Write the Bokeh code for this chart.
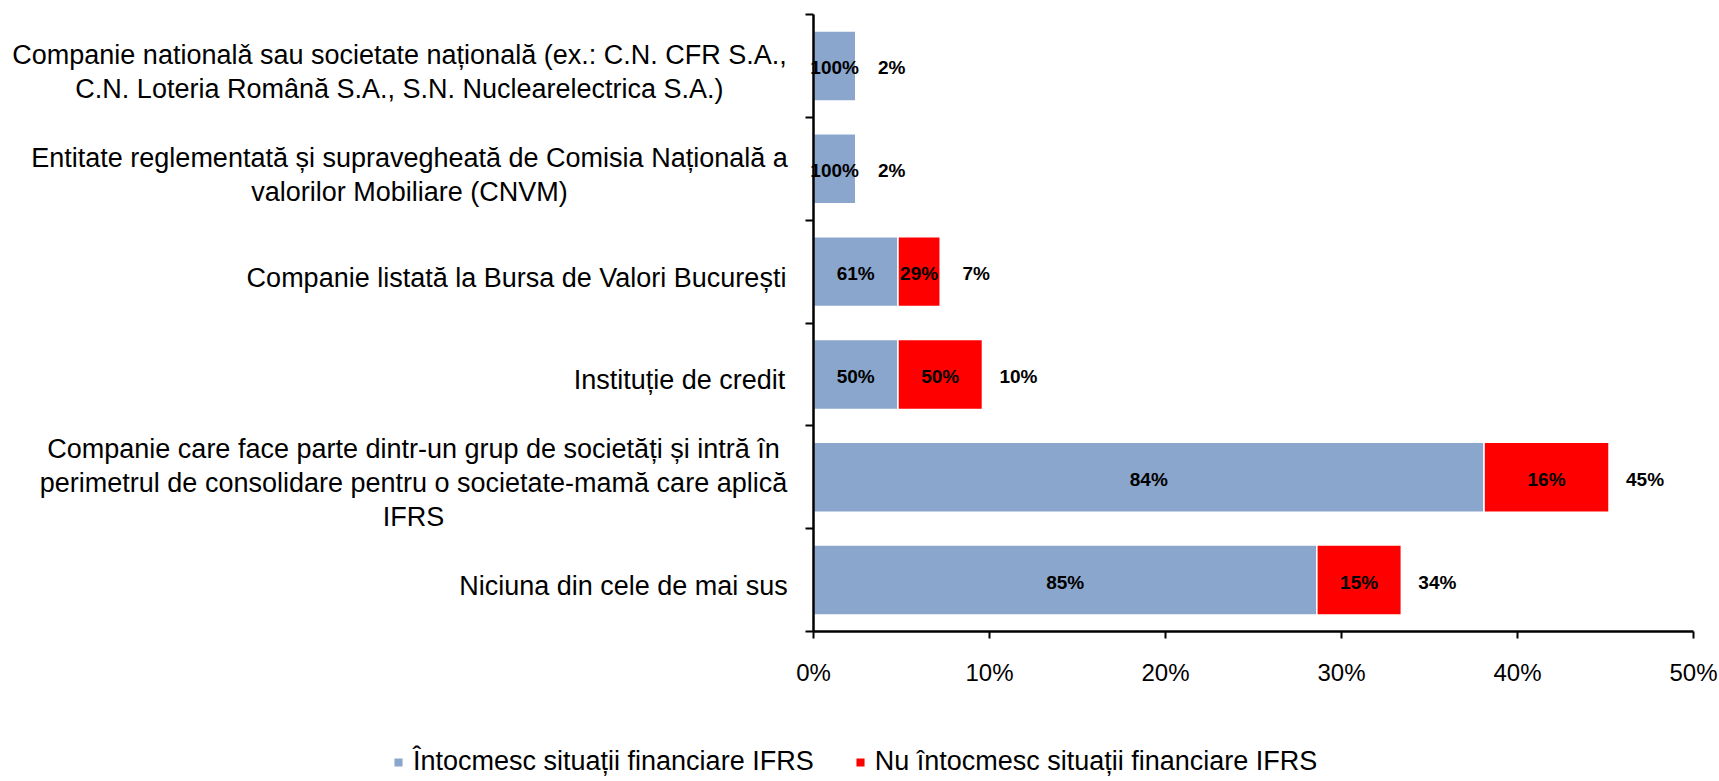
from bokeh.plotting import figure
from bokeh.models import (Range1d, FixedTicker, PrintfTickFormatter, CustomJSTickFormatter,
                          Label, Legend, LegendItem, ColumnDataSource, LinearAxis, Grid)
from bokeh.core.properties import value
from bokeh.embed import file_html
from bokeh.resources import INLINE

# ---- data (top to bottom) ----
categories = [
    "Companie nationalǎ sau societate națională (ex.: C.N. CFR S.A.,\nC.N. Loteria Română S.A., S.N. Nuclearelectrica S.A.)",
    "Entitate reglementată și supravegheată de Comisia Națională a\nvalorilor Mobiliare (CNVM)",
    "Companie listată la Bursa de Valori București",
    "Instituție de credit",
    "Companie care face parte dintr-un grup de societăți și intră în\nperimetrul de consolidare pentru o societate-mamă care aplică\nIFRS",
    "Niciuna din cele de mai sus",
]
ifrs_yes = [2.4, 2.4, 4.8, 4.8, 38.1, 28.6]      # % of respondents (blue segment)
ifrs_no = [0.0, 0.0, 2.4, 4.8, 7.1, 4.8]         # % of respondents (red segment)
yes_labels = ["100%", "100%", "61%", "50%", "84%", "85%"]
no_labels = ["", "", "29%", "50%", "16%", "15%"]
total_labels = ["2%", "2%", "7%", "10%", "45%", "34%"]
x_ticks = [0, 10, 20, 30, 40, 50]
series_names = ["Întocmesc situații financiare IFRS", "Nu întocmesc situații financiare IFRS"]

# ---- layout / style ----
FONT = "Liberation Sans"
BLUE = "#8AA6CC"
RED = "#FF0000"
W, H = 1719, 781
label_center_px = [-414, -404, -297, -134, -400, -190]   # horizontal centre of category label blocks

n = len(categories)
ys = [n - 0.5 - i for i in range(n)]
totals = [a + b for a, b in zip(ifrs_yes, ifrs_no)]

# plot frame spans the whole canvas; axes are pinned at x=0 / y=0
px_per_x = 17.6
px_per_y = 102.83
x0_px, y0_px = 813, 631
p = figure(width=W, height=H, output_backend="svg", toolbar_location=None,
           x_axis_location=None, y_axis_location=None,
           x_range=Range1d(-x0_px / px_per_x, (W - x0_px) / px_per_x),
           y_range=Range1d(-(H - y0_px) / px_per_y, y0_px / px_per_y),
           min_border=0, min_border_left=0, min_border_right=0,
           min_border_top=0, min_border_bottom=0)
p.outline_line_color = None
p.background_fill_color = "white"
p.border_fill_color = "white"
p.renderers = [r for r in p.renderers if not isinstance(r, Grid)]
p.center = [c for c in p.center if not isinstance(c, Grid)]

src_yes = ColumnDataSource(dict(y=ys, right=ifrs_yes, cx=[v / 2 for v in ifrs_yes], lbl=yes_labels))
r_yes = p.hbar(y="y", left=0, right="right", height=0.68, source=src_yes,
               fill_color=BLUE, line_color="white", line_width=1.5)

idx = [i for i in range(n) if ifrs_no[i] > 0]
src_no = ColumnDataSource(dict(y=[ys[i] for i in idx],
                               left=[ifrs_yes[i] for i in idx],
                               right=[totals[i] for i in idx],
                               cx=[ifrs_yes[i] + ifrs_no[i] / 2 for i in idx],
                               lbl=[no_labels[i] for i in idx]))
r_no = p.hbar(y="y", left="left", right="right", height=0.68, source=src_no,
              fill_color=RED, line_color="white", line_width=1.5)

# data labels
lbl_style = dict(text_align="center", text_baseline="middle", text_font=value(FONT),
                 text_font_style="bold", text_font_size="19px", text_color="black")
p.text(x="cx", y="y", text="lbl", source=src_yes, y_offset=2, **lbl_style)
p.text(x="cx", y="y", text="lbl", source=src_no, y_offset=2, **lbl_style)
src_tot = ColumnDataSource(dict(x=totals, y=ys, lbl=total_labels))
p.text(x="x", y="y", text="lbl", source=src_tot, x_offset=36, y_offset=2, **lbl_style)

# axes
xa = LinearAxis(fixed_location=0, bounds=(0, 50))
xa.ticker = FixedTicker(ticks=x_ticks)
xa.formatter = PrintfTickFormatter(format="%d%%")
xa.axis_line_width = 2.5
xa.axis_line_color = "black"
xa.major_tick_line_width = 2
xa.major_tick_line_color = "black"
xa.major_tick_out = 7
xa.major_tick_in = 0
xa.minor_tick_line_color = None
xa.major_label_standoff = 20
xa.major_label_text_font = FONT
xa.major_label_text_font_size = "24px"
xa.major_label_text_color = "black"
p.add_layout(xa, "below")

ya = LinearAxis(fixed_location=0, bounds=(0, n))
ya.ticker = FixedTicker(ticks=list(range(n + 1)))
ya.formatter = CustomJSTickFormatter(code="return ''")
ya.axis_line_width = 2.5
ya.axis_line_color = "black"
ya.major_tick_line_width = 2
ya.major_tick_line_color = "black"
ya.major_tick_out = 8
ya.major_tick_in = 0
ya.minor_tick_line_color = None
p.add_layout(ya, "left")

# category labels
for i, cat in enumerate(categories):
    p.add_layout(Label(x=0, y=ys[i], x_offset=label_center_px[i], y_offset=-6, text=cat,
                       text_align="center", text_baseline="middle",
                       text_font=FONT, text_font_size="27px", text_color="black",
                       text_line_height=1.13))

legend = Legend(items=[LegendItem(label=series_names[0], renderers=[r_yes]),
                       LegendItem(label=series_names[1], renderers=[r_no])],
                orientation="horizontal", location=(392, 4),
                glyph_width=12, glyph_height=12, label_standoff=9, spacing=40,
                padding=0, margin=0, border_line_color=None, background_fill_alpha=0,
                label_text_font=FONT, label_text_font_size="27px", label_text_color="black")
p.add_layout(legend)

open("out.html", "w").write(file_html(p, INLINE))
